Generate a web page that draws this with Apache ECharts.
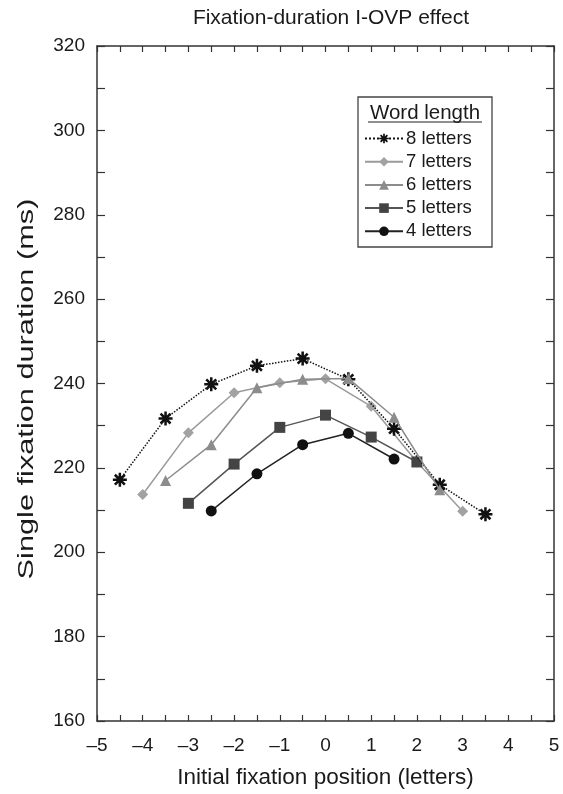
<!DOCTYPE html>
<html>
<head>
<meta charset="utf-8">
<script src="https://cdn.jsdelivr.net/npm/echarts@6/dist/echarts.min.js"></script>
<style>html,body{margin:0;padding:0;background:#fff}#c{width:563px;height:794px}</style>
</head>
<body>
<div id="c"></div>
<script>
const titleText = 'Fixation-duration I-OVP effect';
const xName = 'Initial fixation position (letters)';
const yName = 'Single fixation duration (ms)';
const legendTitle = 'Word length';
const seriesNames = ['8 letters', '7 letters', '6 letters', '5 letters', '4 letters'];

const x8 = [-4.5, -3.5, -2.5, -1.5, -0.5, 0.5, 1.5, 2.5, 3.5];
const y8 = [217.2, 231.7, 239.8, 244.2, 245.9, 241.0, 229.3, 216.0, 209.0];
const x7 = [-4, -3, -2, -1, 0, 1, 2, 3];
const y7 = [213.7, 228.3, 237.8, 240.2, 241.1, 234.6, 221.4, 209.7];
const x6 = [-3.5, -2.5, -1.5, -0.5, 0.5, 1.5, 2.5];
const y6 = [217.0, 225.5, 239.0, 241.0, 241.2, 232.0, 214.8];
const x5 = [-3, -2, -1, 0, 1, 2];
const y5 = [211.6, 220.9, 229.6, 232.5, 227.3, 221.4];
const x4 = [-2.5, -1.5, -0.5, 0.5, 1.5];
const y4 = [209.8, 218.6, 225.5, 228.2, 222.1];

const xMin = -5, xMax = 5, xStep = 0.5;
const yMin = 160, yMax = 320, yStep = 10;

const asterisk = 'path://M41 0 L59 0 L59 100 L41 100 Z M0 41 L100 41 L100 59 L0 59 Z M8 21 L21 8 L92 79 L79 92 Z M79 8 L92 21 L21 92 L8 79 Z';

const FONT = 'Liberation Sans';
const axisColor = '#333';

function pairs(xs, ys) { return xs.map((x, i) => [x, ys[i]]); }
function fmtX(v) {
  if (Math.abs(v - Math.round(v)) > 1e-6) return '';
  return v < 0 ? '\u2013' + Math.abs(v) : String(v);
}
function fmtY(v) { return (Math.round(v) % 20 === 0) ? String(v) : ''; }

const chart = echarts.init(document.getElementById('c'), null, {renderer: 'canvas'});

const defs = [
  {name: seriesNames[0], data: pairs(x8, y8), color: '#111', lineColor: '#111', symbol: asterisk, size: 14, type: 'dotted', z: 5},
  {name: seriesNames[1], data: pairs(x7, y7), color: '#a2a2a2', lineColor: '#9a9a9a', symbol: 'diamond', size: 11, type: 'solid', z: 3},
  {name: seriesNames[2], data: pairs(x6, y6), color: '#8c8c8c', lineColor: '#8c8c8c', symbol: 'triangle', size: 11, type: 'solid', z: 6},
  {name: seriesNames[3], data: pairs(x5, y5), color: '#444', lineColor: '#555', symbol: 'rect', size: 11, type: 'solid', z: 4},
  {name: seriesNames[4], data: pairs(x4, y4), color: '#111', lineColor: '#222', symbol: 'circle', size: 11, type: 'solid', z: 4}
];

const axisCommon = {
  axisLine: {show: true, onZero: false, lineStyle: {color: axisColor, width: 1.5}},
  splitLine: {show: false}
};

const option = {
  backgroundColor: '#fff',
  animation: false,
  title: {
    text: titleText, left: 326, top: 3, textAlign: 'center',
    textStyle: {fontFamily: FONT, fontSize: 21, fontWeight: 'normal', color: '#1a1a1a'}
  },
  grid: {left: 97, right: 9, top: 46, bottom: 71, containLabel: false},
  xAxis: [
    Object.assign({
      type: 'value', min: xMin, max: xMax, interval: xStep, position: 'bottom',
      name: xName, nameLocation: 'middle', nameGap: 45,
      nameTextStyle: {fontFamily: FONT, fontSize: 22.5, color: '#1a1a1a'},
      axisTick: {show: true, inside: true, length: 6, lineStyle: {color: axisColor, width: 1.2}},
      axisLabel: {formatter: fmtX, fontFamily: FONT, fontSize: 19, color: '#1a1a1a', margin: 15, showMinLabel: true, showMaxLabel: true}
    }, axisCommon),
    Object.assign({
      type: 'value', min: xMin, max: xMax, interval: xStep, position: 'top',
      axisTick: {show: true, inside: true, length: 6, lineStyle: {color: axisColor, width: 1.2}},
      axisLabel: {show: false}
    }, axisCommon)
  ],
  yAxis: [
    Object.assign({
      type: 'value', min: yMin, max: yMax, interval: yStep, position: 'left',
      axisTick: {show: true, inside: true, length: 8, lineStyle: {color: axisColor, width: 1.2}},
      axisLabel: {formatter: fmtY, fontFamily: FONT, fontSize: 19, color: '#1a1a1a', margin: 12, showMinLabel: true, showMaxLabel: true}
    }, axisCommon),
    Object.assign({
      type: 'value', min: yMin, max: yMax, interval: yStep, position: 'right',
      axisTick: {show: true, inside: true, length: 8, lineStyle: {color: axisColor, width: 1.2}},
      axisLabel: {show: false}
    }, axisCommon)
  ],
  legend: {
    orient: 'vertical', left: 364, top: 129, padding: 0,
    itemWidth: 38, itemHeight: 12, itemGap: 4.2,
    textStyle: {fontFamily: FONT, fontSize: 18.5, color: '#1a1a1a', padding: [0, 0, 0, -2]},
    data: seriesNames
  },
  graphic: [
    {type: 'rect', shape: {x: 358, y: 97, width: 134, height: 150},
     style: {fill: 'none', stroke: '#444', lineWidth: 1.3}, z: 10},
    {type: 'text', x: 425, y: 113, style: {text: legendTitle, font: '20.5px "Liberation Sans"', fill: '#1a1a1a', align: 'center', verticalAlign: 'middle'}, z: 10},
    {type: 'line', shape: {x1: 368, y1: 122, x2: 482, y2: 122}, style: {stroke: '#222', lineWidth: 1.2}, z: 10},
    {type: 'text', x: 27, y: 389, rotation: Math.PI / 2, scaleX: 1.28, scaleY: 0.95,
     style: {text: yName, font: '24px "Liberation Sans"', fill: '#1a1a1a', align: 'center', verticalAlign: 'middle'}, z: 10}
  ],
  series: defs.map(d => ({
    name: d.name, type: 'line', xAxisIndex: 0, yAxisIndex: 0,
    data: d.data, symbol: d.symbol, symbolSize: d.size, showSymbol: true,
    z: d.z,
    itemStyle: {color: d.color, borderWidth: 0},
    lineStyle: {color: d.lineColor, width: 1.5, type: d.type},
    emphasis: {disabled: true}
  }))
};
chart.setOption(option);
</script>
</body>
</html>
